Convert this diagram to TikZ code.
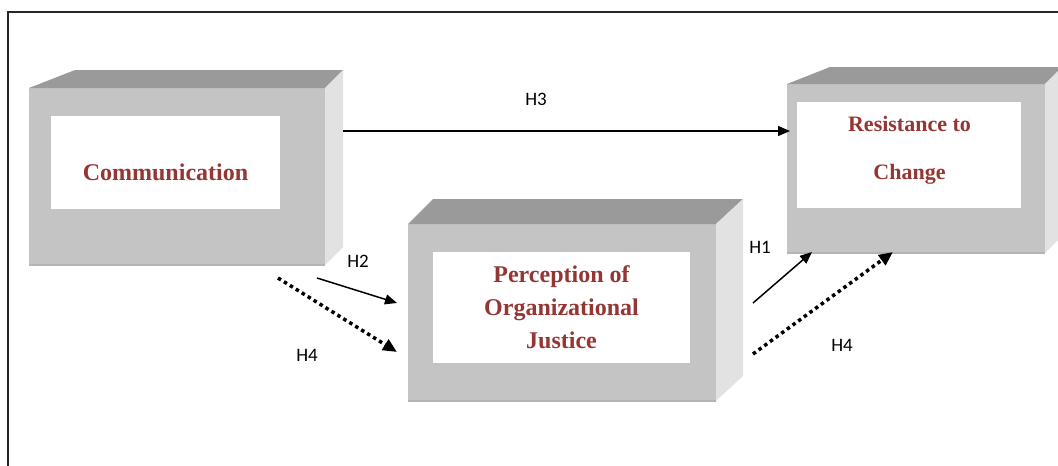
\documentclass[tikz,border=0pt]{standalone}
\usepackage{fontspec}
\setmainfont{Liberation Serif}
\newfontfamily\hypfont{Carlito}
\usetikzlibrary{arrows.meta,positioning}
\definecolor{boxred}{HTML}{943634}
\definecolor{boxfront}{HTML}{C4C4C4}
\definecolor{boxtop}{HTML}{9A9A9A}
\definecolor{boxside}{HTML}{E2E2E2}
\definecolor{boxedge}{HTML}{B4B4B4}

\begin{document}
\begin{tikzpicture}[x=1pt,y=-1pt,
 panel/.style={fill=white,inner sep=0pt},
 lbl/.style={font=\bfseries\fontsize{24}{33}\selectfont,text=boxred,align=center},
 hyp/.style={font=\hypfont\fontsize{19}{22}\selectfont},
 link/.style={line width=1.5pt,-{Triangle[length=12pt,width=10pt]}},
 dotlink/.style={line width=3.5pt,dash pattern=on 3.5pt off 3.5pt,-{Triangle[length=14pt,width=12pt]}}]
\useasboundingbox (0,0) rectangle (1058,466);
\draw[line width=1.5pt,black!85] (8,466) -- (8,12) -- (1058,12);
\foreach \xa/\ya/\xb/\yb/\dl/\dr/\dd in {29/88/325/265/46/18/18,408/224/716/401/25/27/25,787/84/1045/253/43/17/17}{
 \fill[boxfront] (\xa,\ya) rectangle (\xb,\yb);
 \fill[boxtop] (\xa,\ya) -- (\xa+\dl,\ya-\dd) -- (\xb+\dr,\ya-\dd) -- (\xb,\ya) -- cycle;
 \fill[boxside] (\xb,\ya) -- (\xb+\dr,\ya-\dd) -- (\xb+\dr,\yb-\dd) -- (\xb,\yb) -- cycle;
 \draw[boxedge,line width=1.5pt] (\xa,\yb) -- (\xb,\yb);
}
\node[panel,minimum width=229pt,minimum height=93pt] (commbox) at (165.5,162.5) {};
\node[panel,minimum width=257pt,minimum height=111pt] (justbox) at (561.5,307.5) {};
\node[panel,minimum width=224pt,minimum height=106pt] (resbox) at (909,155) {};
\node[lbl] (comm) at (165.5,172) {Communication};
\node[lbl] (just) at (561.5,307) {Perception of\\Organizational\\Justice};
\node[lbl,font=\bfseries\fontsize{22}{48}\selectfont] (res) at (909.5,150) {Resistance to\\Change};
\coordinate (h3a) at (343,131);
\coordinate (h3b) at (790,131);
\coordinate (h2a) at (317,278);
\coordinate (h2b) at (397,303);
\coordinate (h4a) at (278,278);
\coordinate (h4b) at (397,352);
\coordinate (h1a) at (753,303);
\coordinate (h1b) at (812,252);
\coordinate (h5a) at (753,354);
\coordinate (h5b) at (893,252);
\draw[link] (h3a) -- (h3b);
\draw[link] (h2a) -- (h2b);
\draw[dotlink] (h4a) -- (h4b);
\draw[link] (h1a) -- (h1b);
\draw[dotlink] (h5a) -- (h5b);
\node[hyp] (lh3) at (536,99) {H3};
\node[hyp] (lh2) at (358,261) {H2};
\node[hyp] (lh4) at (307,355) {H4};
\node[hyp] (lh1) at (760,247) {H1};
\node[hyp] (lh5) at (842,345) {H4};
\end{tikzpicture}
\end{document}
